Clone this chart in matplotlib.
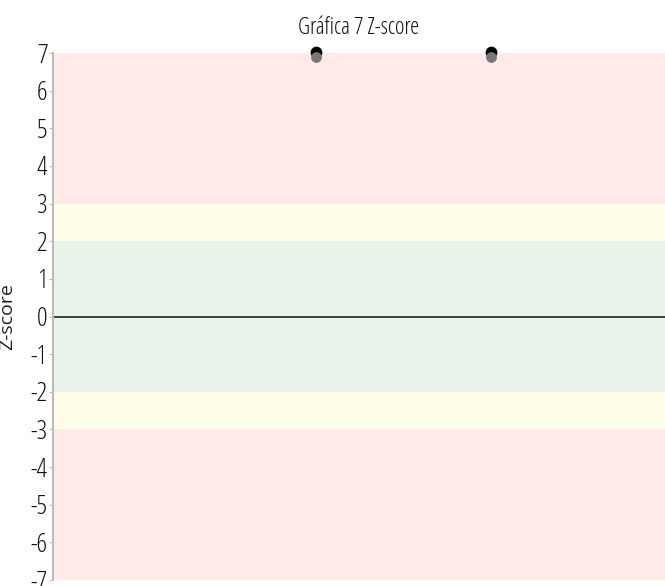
import matplotlib.pyplot as plt
import numpy as np
from matplotlib import font_manager

# light condensed face (registered as "Open Sans", stretch condensed, weight 300)
cands = [f for f in font_manager.fontManager.ttflist
         if f.name.startswith('Open Sans') and f.stretch == 'condensed']
cands.sort(key=lambda f: abs((f.weight if isinstance(f.weight, int) else 400) - 300))
if cands:
    fp = font_manager.FontProperties(fname=cands[0].fname)
else:
    fp = font_manager.FontProperties(family='DejaVu Sans')

# data
point_x = [43, 71.5]
point_z = [7, 7]
y_ticks = list(range(-7, 8))
bands = [(-7, -3, '#ffe9e9'), (-3, -2, '#fffee9'), (-2, 2, '#eaf3ea'),
         (2, 3, '#fffee9'), (3, 7, '#ffe9e9')]

fig = plt.figure(figsize=(6.65, 5.86), dpi=100)
ax = fig.add_axes([0.0797, 0.0102, 0.9203, 0.8993])

for lo, hi, col in bands:
    ax.axhspan(lo, hi, color=col, lw=0, zorder=0)
ax.axhline(0, color='#222222', lw=1.2, zorder=1)

# two-tone markers: grey underneath, black on top
ax.scatter(point_x, np.array(point_z) + 0.03, s=55, color='black', zorder=4, clip_on=False)
ax.scatter(point_x, np.array(point_z) - 0.1, s=45, color='#777777', zorder=5, clip_on=False)

ax.set_xlim(0, 100)
ax.set_ylim(-7, 7)
ax.set_yticks(y_ticks)
tick_fp = fp.copy()
tick_fp.set_size(19)
ax.set_yticklabels([str(t) for t in y_ticks], fontproperties=tick_fp, color='#111111')
ax.set_xticks([])
ax.tick_params(axis='y', length=3, color='#bbbbbb', pad=1)
for s in ['top', 'right', 'bottom']:
    ax.spines[s].set_visible(False)
ax.spines['left'].set_color('#bbbbbb')
ax.spines['left'].set_linewidth(1.5)

ax.set_ylabel('Z-score', fontsize=14, family='Open Sans', weight='normal', color='#222222')
ax.yaxis.set_label_coords(-0.06, 0.5)
title_fp = fp.copy()
title_fp.set_size(16.5)
ax.set_title('Gráfica 7 Z-score', fontproperties=title_fp, color='#111111', pad=14)

fig.savefig('out.png', dpi=100)
